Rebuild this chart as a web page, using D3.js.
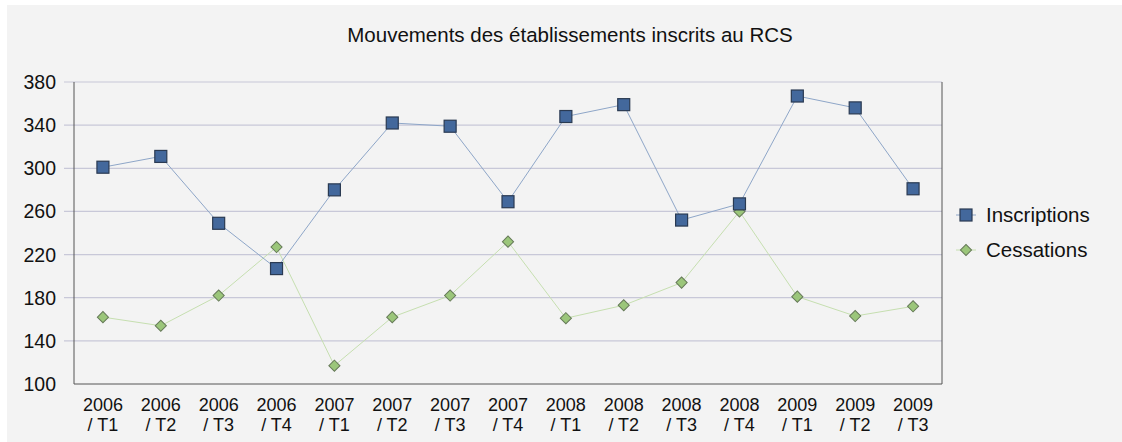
<!DOCTYPE html>
<html>
<head>
<meta charset="utf-8">
<script src="https://cdnjs.cloudflare.com/ajax/libs/d3/7.8.5/d3.min.js"></script>
<style>
  body { margin: 0; background: #fff; }
  text { font-family: "Liberation Sans", Arial, sans-serif; fill: #111; }
</style>
</head>
<body>
<div id="chart"></div>
<script>
var categories = ["2006 / T1","2006 / T2","2006 / T3","2006 / T4","2007 / T1","2007 / T2","2007 / T3","2007 / T4",
                  "2008 / T1","2008 / T2","2008 / T3","2008 / T4","2009 / T1","2009 / T2","2009 / T3"];
var inscriptions = [301, 311, 249, 207, 280, 342, 339, 269, 348, 359, 252, 267, 367, 356, 281];
var cessations   = [162, 154, 182, 227, 117, 162, 182, 232, 161, 173, 194, 260, 181, 163, 172];
var yTicks = [100, 140, 180, 220, 260, 300, 340, 380];
var seriesNames = ["Inscriptions", "Cessations"];

var W = 1122, H = 442;
// plot box (note: "top" is a reserved global in browsers)
var pLeft = 74, pRight = 942, pTop = 82, pBottom = 384;

var svg = d3.select("#chart").append("svg")
    .attr("width", W).attr("height", H);

// background
svg.append("rect").attr("x", 7).attr("y", 5)
    .attr("width", W - 7).attr("height", H - 5)
    .attr("fill", "#f3f3f3");

svg.append("text")
    .attr("x", 570).attr("y", 42)
    .attr("text-anchor", "middle")
    .style("font-size", "20.5px")
    .text("Mouvements des établissements inscrits au RCS");

var x = d3.scaleBand().domain(categories).range([pLeft, pRight]);
var y = d3.scaleLinear().domain([100, 380]).range([pBottom, pTop]);

// gridlines
svg.append("g").selectAll("line")
    .data(yTicks.filter(function(d){ return d > 100; }))
    .enter().append("line")
    .attr("x1", pLeft - 10).attr("x2", pRight)
    .attr("y1", function(d){ return y(d); })
    .attr("y2", function(d){ return y(d); })
    .attr("stroke", "#c8c8d8").attr("stroke-width", 1.2);

// y labels
svg.append("g").selectAll("text")
    .data(yTicks)
    .enter().append("text")
    .attr("x", 56)
    .attr("y", function(d){ return y(d) + 7; })
    .attr("text-anchor", "end")
    .style("font-size", "19.5px")
    .text(function(d){ return d; });

// frame
svg.append("path")
    .attr("d", "M" + pLeft + "," + pTop + "V" + pBottom + "H" + pRight + "V" + pTop)
    .attr("fill", "none").attr("stroke", "#555").attr("stroke-width", 1);

// x labels
var xl = svg.append("g").selectAll("text")
    .data(categories)
    .enter().append("text")
    .attr("text-anchor", "middle")
    .style("font-size", "18px");
xl.append("tspan")
    .attr("x", function(d){ return x(d) + x.bandwidth() / 2; })
    .attr("y", 411)
    .text(function(d){ return d.split(" / ")[0]; });
xl.append("tspan")
    .attr("x", function(d){ return x(d) + x.bandwidth() / 2; })
    .attr("y", 431)
    .text(function(d){ return "/ " + d.split(" / ")[1]; });

var cx = function(d, i){ return x(categories[i]) + x.bandwidth() / 2; };
var line = d3.line().x(cx).y(function(d){ return y(d); });

svg.append("path").datum(cessations)
    .attr("d", line).attr("fill", "none")
    .attr("stroke", "#c6dfb0").attr("stroke-width", 1);
svg.append("path").datum(inscriptions)
    .attr("d", line).attr("fill", "none")
    .attr("stroke", "#8ea6c8").attr("stroke-width", 1);

var diamond = d3.symbol().type(d3.symbolSquare).size(62);

svg.append("g").selectAll("path")
    .data(cessations)
    .enter().append("path")
    .attr("d", diamond)
    .attr("transform", function(d, i){ return "translate(" + cx(d, i) + "," + y(d) + ") rotate(45)"; })
    .attr("fill", "#9bc67a").attr("stroke", "#667a58").attr("stroke-width", 1);

var sq = 12;
svg.append("g").selectAll("rect")
    .data(inscriptions)
    .enter().append("rect")
    .attr("x", function(d, i){ return cx(d, i) - sq / 2; })
    .attr("y", function(d){ return y(d) - sq / 2; })
    .attr("width", sq).attr("height", sq)
    .attr("fill", "#43689c").attr("stroke", "#2a3a52").attr("stroke-width", 1.2);

// legend
var lg = svg.append("g");
seriesNames.forEach(function(name, i){
    var ly = 215 + i * 35;
    lg.append("line").attr("x1", 956).attr("x2", 976).attr("y1", ly).attr("y2", ly)
        .attr("stroke", i === 0 ? "#8ea6c8" : "#c6dfb0");
    if (i === 0) {
        lg.append("rect").attr("x", 966 - sq / 2).attr("y", ly - sq / 2).attr("width", sq).attr("height", sq)
            .attr("fill", "#43689c").attr("stroke", "#2a3a52").attr("stroke-width", 1.2);
    } else {
        lg.append("path").attr("d", diamond)
            .attr("transform", "translate(966," + ly + ") rotate(45)")
            .attr("fill", "#9bc67a").attr("stroke", "#667a58");
    }
    lg.append("text").attr("x", 986).attr("y", ly + 7)
        .style("font-size", "20.5px").text(name);
});
</script>
</body>
</html>
